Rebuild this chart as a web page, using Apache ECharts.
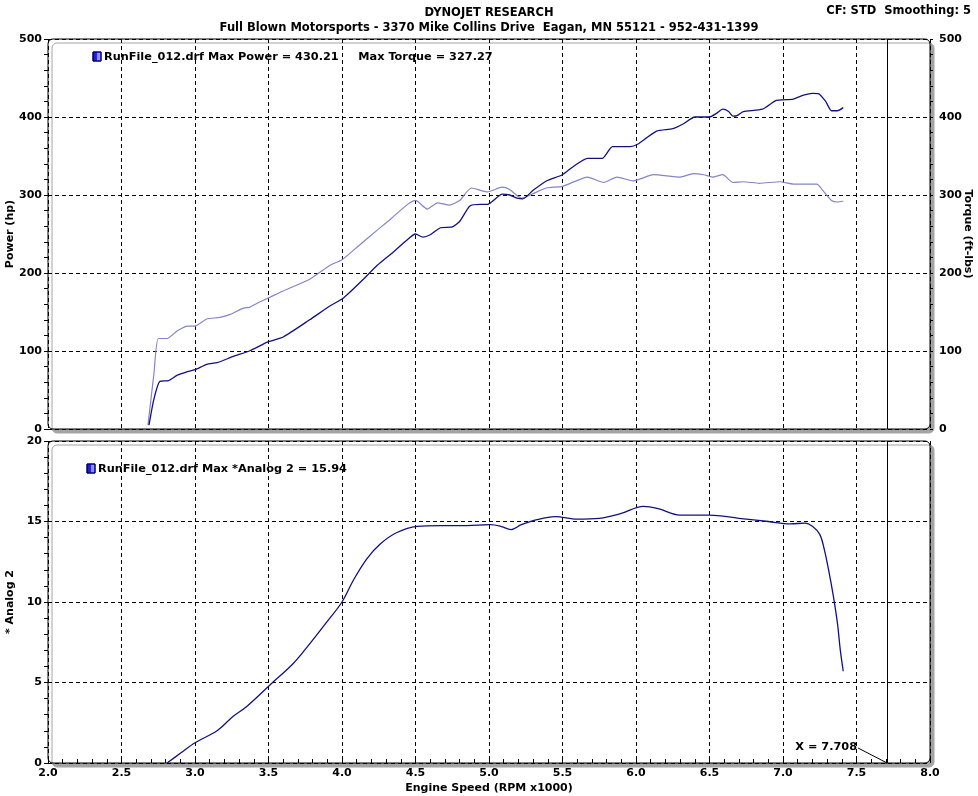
<!DOCTYPE html>
<html><head><meta charset="utf-8">
<script src="https://cdn.jsdelivr.net/npm/echarts@6/dist/echarts.min.js"></script>
<style>html,body{margin:0;padding:0;background:#fff}#c{width:978px;height:796px}</style>
</head><body><div id="c"></div>
<script>
// ---- data ----
const powerRpm = [2.687,2.72,2.76,2.82,2.88,2.94,3.00,3.08,3.15,3.26,3.37,3.50,3.60,3.78,3.92,4.01,4.14,4.24,4.35,4.44,4.50,4.55,4.60,4.67,4.75,4.80,4.87,4.94,4.99,5.09,5.14,5.19,5.23,5.30,5.39,5.50,5.57,5.67,5.77,5.84,5.96,6.01,6.14,6.25,6.32,6.40,6.50,6.55,6.59,6.63,6.66,6.69,6.73,6.86,6.95,7.00,7.07,7.14,7.20,7.24,7.29,7.33,7.37,7.41];
const powerHp = [5,38,61,62,69,73,76,83,85,93,100,112,118,140,158,168,191,210,227,242,250,246,249,258,259,266,286,288,288,301,300,296,295,306,318,326,336,347,347,362,362,365,382,385,391,400,400,405,410,407,401,402,407,410,421,422,423,428,430.2,430,420,408,408,412];
const torqueRpm = [2.68,2.72,2.75,2.81,2.88,2.95,3.00,3.08,3.17,3.24,3.33,3.37,3.42,3.51,3.60,3.78,3.92,4.00,4.12,4.24,4.33,4.44,4.50,4.58,4.65,4.73,4.80,4.88,4.99,5.09,5.14,5.22,5.28,5.39,5.50,5.67,5.78,5.87,5.98,6.12,6.30,6.39,6.46,6.52,6.59,6.66,6.73,6.84,6.98,7.07,7.23,7.27,7.33,7.37,7.41];
const torqueFtLb = [5,70,116,116,126,132,132,141,143,147,155,156,161,169,177,192,210,217,236,255,269,287,293,282,290,287,293,309,304,310,307,296,300,309,311,323,316,323,318,326,323,327.3,326,323,326,316,317,315,317,314,314,306,293,291,292];
const analogRpm = [2.81,2.90,3.00,3.15,3.26,3.35,3.51,3.67,3.78,3.90,4.00,4.08,4.17,4.26,4.37,4.51,4.67,4.85,5.01,5.08,5.15,5.22,5.32,5.45,5.60,5.75,5.90,6.05,6.15,6.30,6.50,6.70,6.90,7.05,7.15,7.20,7.25,7.28,7.31,7.34,7.37,7.39,7.41];
const analog2 = [0,0.6,1.26,2.0,2.9,3.5,4.85,6.2,7.4,8.8,10.0,11.4,12.7,13.6,14.3,14.7,14.75,14.75,14.8,14.7,14.5,14.8,15.1,15.3,15.15,15.2,15.5,15.94,15.8,15.4,15.4,15.2,15.0,14.85,14.9,14.7,14.2,13.3,12.0,10.5,8.7,7.0,5.7];
const cursorX = 7.708;
const titleText = 'DYNOJET RESEARCH';
const subtitleText = 'Full Blown Motorsports - 3370 Mike Collins Drive  Eagan, MN 55121 - 952-431-1399';
const cornerText = 'CF: STD  Smoothing: 5';
const legendTop = 'RunFile_012.drf Max Power = 430.21     Max Torque = 327.27';
const legendBottom = 'RunFile_012.drf Max *Analog 2 = 15.94';

// ---- layout ----
const L = 48, W = 882;
const T1 = 39, H1 = 390;
const T2 = 441, H2 = 322;
const FONT = 'DejaVu Sans';
const zip = (a, b) => a.map((v, i) => [v, b[i]]);

const chart = echarts.init(document.getElementById('c'), null, {renderer: 'canvas'});
const dash = {color: '#000', type: [4, 3], width: 1};
const lbl = {color: '#000', fontFamily: FONT, fontWeight: 'bold', fontSize: 11};
const nameStyle = {color: '#000', fontFamily: FONT, fontWeight: 'bold', fontSize: 11};
const cursorLine = {silent: true, symbol: 'none', label: {show: false}, lineStyle: {color: '#000', type: 'solid', width: 1}, data: [{xAxis: cursorX}], animation: false};

function frame(top, h) {
  return {type: 'rect', z: -10, shape: {x: L, y: top, width: W, height: h, r: 5},
    style: {fill: '#fff', stroke: '#000', lineWidth: 1, shadowColor: '#a4a4a4', shadowOffsetX: 4, shadowOffsetY: 4, shadowBlur: 0}};
}
function legendIcon(x, y) {
  return {type: 'rect', shape: {x: x, y: y, width: 8, height: 9},
    style: {fill: new echarts.graphic.LinearGradient(0, 0, 1, 0, [{offset: 0, color: '#1010c8'}, {offset: 0.5, color: '#2a2ad8'}, {offset: 0.55, color: '#8c8cf0'}, {offset: 1, color: '#9a9af4'}]), stroke: '#00007a', lineWidth: 1}};
}
const tFont = {fontFamily: FONT, fontWeight: 'bold', fontSize: 11.5, color: '#000'};

const option = {
  animation: false,
  backgroundColor: '#fff',
  title: [
    {text: titleText, left: 'center', top: 2, textStyle: tFont},
    {text: subtitleText, left: 'center', top: 17, textStyle: tFont},
    {text: cornerText, right: 2, top: 0, textStyle: tFont}
  ],
  grid: [
    {left: L, top: T1, width: W, height: H1, outerBoundsMode: 'none', containLabel: false},
    {left: L, top: T2, width: W, height: H2, outerBoundsMode: 'none', containLabel: false}
  ],
  xAxis: [
    {type: 'value', gridIndex: 0, min: 2, max: 8, interval: 0.5, axisLine: {show: false}, axisTick: {show: false}, axisLabel: {show: false}, splitLine: {show: true, lineStyle: dash}},
    {type: 'value', gridIndex: 1, min: 2, max: 8, interval: 0.5, axisLine: {show: false},
      axisTick: {show: true, inside: true, length: 4, lineStyle: {color: '#000'}},
      minorTick: {show: true, splitNumber: 5, length: 4, lineStyle: {color: '#000'}},
      axisLabel: Object.assign({margin: 5, formatter: v => v.toFixed(1)}, lbl),
      splitLine: {show: true, lineStyle: dash},
      name: 'Engine Speed (RPM x1000)', nameLocation: 'middle', nameGap: 20, nameMoveOverlap: false, nameTextStyle: nameStyle}
  ],
  yAxis: [
    {type: 'value', gridIndex: 0, min: 0, max: 500, interval: 100, axisLine: {show: false},
      axisTick: {show: true, length: 4, lineStyle: {color: '#000'}},
      minorTick: {show: true, splitNumber: 5, length: 4, lineStyle: {color: '#000'}},
      axisLabel: Object.assign({margin: 6}, lbl), splitLine: {show: true, lineStyle: dash},
      name: 'Power (hp)', nameLocation: 'middle', nameGap: 32, nameMoveOverlap: false, nameTextStyle: nameStyle},
    {type: 'value', gridIndex: 0, position: 'right', min: 0, max: 500, interval: 100, axisLine: {show: false},
      axisTick: {show: true, length: 3, lineStyle: {color: '#000'}},
      minorTick: {show: true, splitNumber: 5, length: 3, lineStyle: {color: '#000'}},
      axisLabel: Object.assign({margin: 9}, lbl), splitLine: {show: false},
      name: 'Torque (ft-lbs)', nameLocation: 'middle', nameRotate: -90, nameGap: 32, nameMoveOverlap: false, nameTextStyle: nameStyle},
    {type: 'value', gridIndex: 1, min: 0, max: 20, interval: 5, axisLine: {show: false},
      axisTick: {show: true, length: 4, lineStyle: {color: '#000'}},
      minorTick: {show: true, splitNumber: 5, length: 4, lineStyle: {color: '#000'}},
      axisLabel: Object.assign({margin: 6}, lbl), splitLine: {show: true, lineStyle: dash},
      name: '* Analog 2', nameLocation: 'middle', nameGap: 32, nameMoveOverlap: false, nameTextStyle: nameStyle}
  ],
  series: [
    {name: 'Torque', type: 'line', xAxisIndex: 0, yAxisIndex: 1, data: zip(torqueRpm, torqueFtLb), showSymbol: false, smooth: 0.2, lineStyle: {color: '#8484c8', width: 1.2}, z: 3},
    {name: 'Power', type: 'line', xAxisIndex: 0, yAxisIndex: 0, data: zip(powerRpm, powerHp), showSymbol: false, smooth: 0.2, lineStyle: {color: '#12127e', width: 1.3}, z: 4, markLine: cursorLine},
    {name: 'Analog 2', type: 'line', xAxisIndex: 1, yAxisIndex: 2, data: zip(analogRpm, analog2), showSymbol: false, smooth: 0.35, lineStyle: {color: '#12127e', width: 1.3}, z: 4, markLine: cursorLine}
  ],
  graphic: [
    frame(T1, H1), frame(T2, H2),
    legendIcon(93, 52),
    {type: 'text', left: 104, top: 52, style: {text: legendTop, fill: '#000', font: 'bold 11.3px "DejaVu Sans"'}},
    legendIcon(87, 464),
    {type: 'text', left: 98, top: 464, style: {text: legendBottom, fill: '#000', font: 'bold 11.3px "DejaVu Sans"'}}
  ]
};
chart.setOption(option);

// cursor readout label with leader line (positioned from the axis scale)
const p = chart.convertToPixel({xAxisIndex: 1, yAxisIndex: 2}, [cursorX, 0]);
chart.setOption({graphic: option.graphic.concat([
  {type: 'text', x: p[0] - 30, y: p[1] - 16, style: {text: 'X = ' + cursorX.toFixed(3), fill: '#000', font: 'bold 11.3px "DejaVu Sans"', align: 'right', verticalAlign: 'middle'}},
  {type: 'line', shape: {x1: p[0] - 29, y1: p[1] - 15, x2: p[0], y2: p[1]}, style: {stroke: '#000', lineWidth: 1}}
])});
</script></body></html>
